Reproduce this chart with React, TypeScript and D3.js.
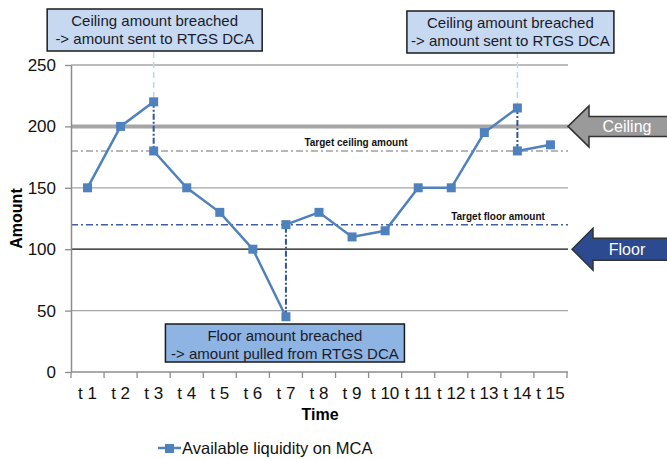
import { useEffect, useRef } from "react";
import * as d3 from "d3";

// time slots on the x axis
const times = ["t 1", "t 2", "t 3", "t 4", "t 5", "t 6", "t 7", "t 8", "t 9", "t 10", "t 11", "t 12", "t 13", "t 14", "t 15"];
// liquidity on MCA at each time, before any transfer
const liquidity = [150, 200, 220, 150, 130, 100, 45, 130, 110, 115, 150, 150, 195, 215, 185];
// liquidity after the automatic transfer (null = no transfer)
const afterTransfer: (number | null)[] = [null, null, 180, null, null, null, 120, null, null, null, null, null, null, 180, null];

const yTicks = [0, 50, 100, 150, 200, 250];
const ceilingAmount = 200;
const floorAmount = 100;
const targetCeiling = 180;
const targetFloor = 120;

const seriesName = "Available liquidity on MCA";
const ceilingNote = ["Ceiling amount breached", "-> amount sent to RTGS DCA"];
const floorNote = ["Floor amount breached", "-> amount pulled from RTGS DCA"];

const FONT = "'Liberation Sans', Arial, sans-serif";

export default function App() {
  const svgRef = useRef<SVGSVGElement>(null);
  const width = 667;
  const height = 459;

  useEffect(() => {
    document.body.style.margin = "0";
    if (!svgRef.current) return;
    const svg = d3.select(svgRef.current);
    svg.selectAll("*").remove();

    const left = 71, right = 568, top = 65, bottom = 372;

    const x = d3.scaleBand<string>().domain(times).range([left, right - 1]).padding(0);
    const cx = (t: string) => (x(t) as number) + x.bandwidth() / 2;
    const y = d3.scaleLinear().domain([0, 250]).range([bottom, top]);

    // gridlines
    svg.append("g")
      .selectAll("line")
      .data(yTicks.filter(v => v !== floorAmount && v !== ceilingAmount && v !== 0))
      .join("line")
      .attr("x1", left).attr("x2", right)
      .attr("y1", d => y(d)).attr("y2", d => y(d))
      .attr("stroke", "#a6a6a6").attr("stroke-width", 1.3);

    // ceiling (thick grey) and floor (black)
    svg.append("line")
      .attr("x1", left).attr("x2", right)
      .attr("y1", y(ceilingAmount)).attr("y2", y(ceilingAmount))
      .attr("stroke", "#a6a6a6").attr("stroke-width", 4);
    svg.append("line")
      .attr("x1", left).attr("x2", right)
      .attr("y1", y(floorAmount)).attr("y2", y(floorAmount))
      .attr("stroke", "#111").attr("stroke-width", 1.3);

    // target lines
    svg.append("line")
      .attr("x1", left).attr("x2", right)
      .attr("y1", y(targetCeiling)).attr("y2", y(targetCeiling))
      .attr("stroke", "#a0a0a0").attr("stroke-width", 1.5)
      .attr("stroke-dasharray", "7,3,2,3");
    svg.append("line")
      .attr("x1", left).attr("x2", right)
      .attr("y1", y(targetFloor)).attr("y2", y(targetFloor))
      .attr("stroke", "#3e5ca8").attr("stroke-width", 1.5)
      .attr("stroke-dasharray", "7,3,2,3");

    svg.append("text")
      .attr("x", 356).attr("y", y(targetCeiling) - 5)
      .attr("text-anchor", "middle")
      .attr("font-family", FONT).attr("font-size", 10).attr("font-weight", "bold")
      .attr("fill", "#111")
      .text("Target ceiling amount");
    svg.append("text")
      .attr("x", 498).attr("y", y(targetFloor) - 5)
      .attr("text-anchor", "middle")
      .attr("font-family", FONT).attr("font-size", 10).attr("font-weight", "bold")
      .attr("fill", "#111")
      .text("Target floor amount");

    // axes
    const yAxis = svg.append("g")
      .attr("transform", `translate(${left},0)`)
      .call(d3.axisLeft(y).tickValues(yTicks).tickSize(6).tickSizeOuter(0));
    yAxis.select(".domain").attr("stroke", "#8c8c8c").attr("stroke-width", 1.5);
    yAxis.selectAll(".tick line").attr("stroke", "#8c8c8c").attr("stroke-width", 1.3);
    yAxis.selectAll(".tick text")
      .attr("font-family", FONT).attr("font-size", 17).attr("fill", "#111").attr("x", -15);

    svg.append("line")
      .attr("x1", left).attr("x2", right)
      .attr("y1", bottom).attr("y2", bottom)
      .attr("stroke", "#8c8c8c").attr("stroke-width", 1.5);
    svg.append("g")
      .selectAll("line")
      .data([...times.map(t => x(t) as number), right - 1])
      .join("line")
      .attr("x1", d => d).attr("x2", d => d)
      .attr("y1", bottom).attr("y2", bottom + 6)
      .attr("stroke", "#8c8c8c").attr("stroke-width", 1.3);
    svg.append("g")
      .selectAll("text")
      .data(times)
      .join("text")
      .attr("x", d => cx(d)).attr("y", 399)
      .attr("text-anchor", "middle")
      .attr("font-family", FONT).attr("font-size", 17).attr("fill", "#111")
      .text(d => d);

    svg.append("text")
      .attr("x", 320).attr("y", 420)
      .attr("text-anchor", "middle")
      .attr("font-family", FONT).attr("font-size", 16).attr("font-weight", "bold")
      .text("Time");
    svg.append("text")
      .attr("transform", `translate(22,${(top + bottom) / 2}) rotate(-90)`)
      .attr("text-anchor", "middle")
      .attr("font-family", FONT).attr("font-size", 16).attr("font-weight", "bold")
      .text("Amount");

    // callout connectors (light dashed)
    const connectors = times
      .map((t, i) => ({ t, v: liquidity[i], after: afterTransfer[i] }))
      .filter(d => d.after !== null && d.after < d.v);
    svg.append("g")
      .selectAll("line")
      .data(connectors)
      .join("line")
      .attr("x1", d => cx(d.t)).attr("x2", d => cx(d.t))
      .attr("y1", 52).attr("y2", d => y(d.v) - 4)
      .attr("stroke", "#bcd6ee").attr("stroke-width", 1.5)
      .attr("stroke-dasharray", "6,4");

    // build solid segments broken at every transfer
    type Pt = { t: string; v: number };
    const segments: Pt[][] = [[]];
    const transfers: { t: string; from: number; to: number }[] = [];
    times.forEach((t, i) => {
      segments[segments.length - 1].push({ t, v: liquidity[i] });
      const a = afterTransfer[i];
      if (a !== null) {
        transfers.push({ t, from: liquidity[i], to: a });
        segments.push([{ t, v: a }]);
      }
    });

    svg.append("g")
      .selectAll("line")
      .data(transfers)
      .join("line")
      .attr("x1", d => cx(d.t)).attr("x2", d => cx(d.t))
      .attr("y1", d => y(d.from)).attr("y2", d => y(d.to))
      .attr("stroke", "#2f5597").attr("stroke-width", 2)
      .attr("stroke-dasharray", "6,2,2,2");

    const line = d3.line<Pt>().x(d => cx(d.t)).y(d => y(d.v));
    svg.append("g")
      .selectAll("path")
      .data(segments)
      .join("path")
      .attr("d", d => line(d))
      .attr("fill", "none")
      .attr("stroke", "#4f81bd").attr("stroke-width", 2.5);

    const allPts = segments.flat();
    svg.append("g")
      .selectAll("rect")
      .data(allPts)
      .join("rect")
      .attr("x", d => cx(d.t) - 4.5).attr("y", d => y(d.v) - 4.5)
      .attr("width", 9).attr("height", 9)
      .attr("fill", "#4f81bd");

    // callout boxes
    const callout = (cxv: number, y0: number, w: number, h: number, fill: string, lines: string[]) => {
      const g = svg.append("g");
      g.append("rect")
        .attr("x", cxv - w / 2).attr("y", y0)
        .attr("width", w).attr("height", h)
        .attr("fill", fill).attr("stroke", "#1a1a1a").attr("stroke-width", 1.5);
      lines.forEach((s, i) => {
        g.append("text")
          .attr("x", cxv).attr("y", y0 + 17 + i * 18)
          .attr("text-anchor", "middle")
          .attr("font-family", FONT).attr("font-size", 15).attr("fill", "#1a1a2a")
          .text(s);
      });
    };
    callout(cx("t 3") + 1, 9, 215, 42, "#c6d9f1", ceilingNote);
    callout(cx("t 14") - 7, 11, 207, 42, "#c6d9f1", ceilingNote);
    callout(cx("t 7") - 1, 324, 239, 38, "#8eb4e3", floorNote);

    // side arrows
    const arrow = (tipX: number, cy: number, headW: number, headH: number, bodyH: number, fill: string, label: string) => {
      const hx = tipX + headW;
      const pts: [number, number][] = [
        [tipX, cy], [hx, cy - headH / 2], [hx, cy - bodyH / 2], [width + 5, cy - bodyH / 2],
        [width + 5, cy + bodyH / 2], [hx, cy + bodyH / 2], [hx, cy + headH / 2],
      ];
      svg.append("polygon")
        .attr("points", pts.map(p => p.join(",")).join(" "))
        .attr("fill", fill).attr("stroke", "#333").attr("stroke-width", 1.5);
      svg.append("text")
        .attr("x", 627).attr("y", cy + 5.5)
        .attr("text-anchor", "middle")
        .attr("font-family", FONT).attr("font-size", 16).attr("fill", "#fff")
        .text(label);
    };
    arrow(right, y(ceilingAmount), 21, 41, 20, "#9a9a9a", "Ceiling");
    arrow(572, y(floorAmount), 21, 42, 22, "#2c4a8f", "Floor");

    // legend
    svg.append("line")
      .attr("x1", 158).attr("x2", 181).attr("y1", 448).attr("y2", 448)
      .attr("stroke", "#4f81bd").attr("stroke-width", 2.5);
    svg.append("rect")
      .attr("x", 165).attr("y", 444).attr("width", 9).attr("height", 9)
      .attr("fill", "#4f81bd");
    svg.append("text")
      .attr("x", 182).attr("y", 454)
      .attr("font-family", FONT).attr("font-size", 16.5).attr("fill", "#111")
      .text(seriesName);
  }, []);

  return (
    <svg ref={svgRef} width={width} height={height} viewBox={`0 0 ${width} ${height}`} style={{ display: "block", background: "#fff" }} />
  );
}
